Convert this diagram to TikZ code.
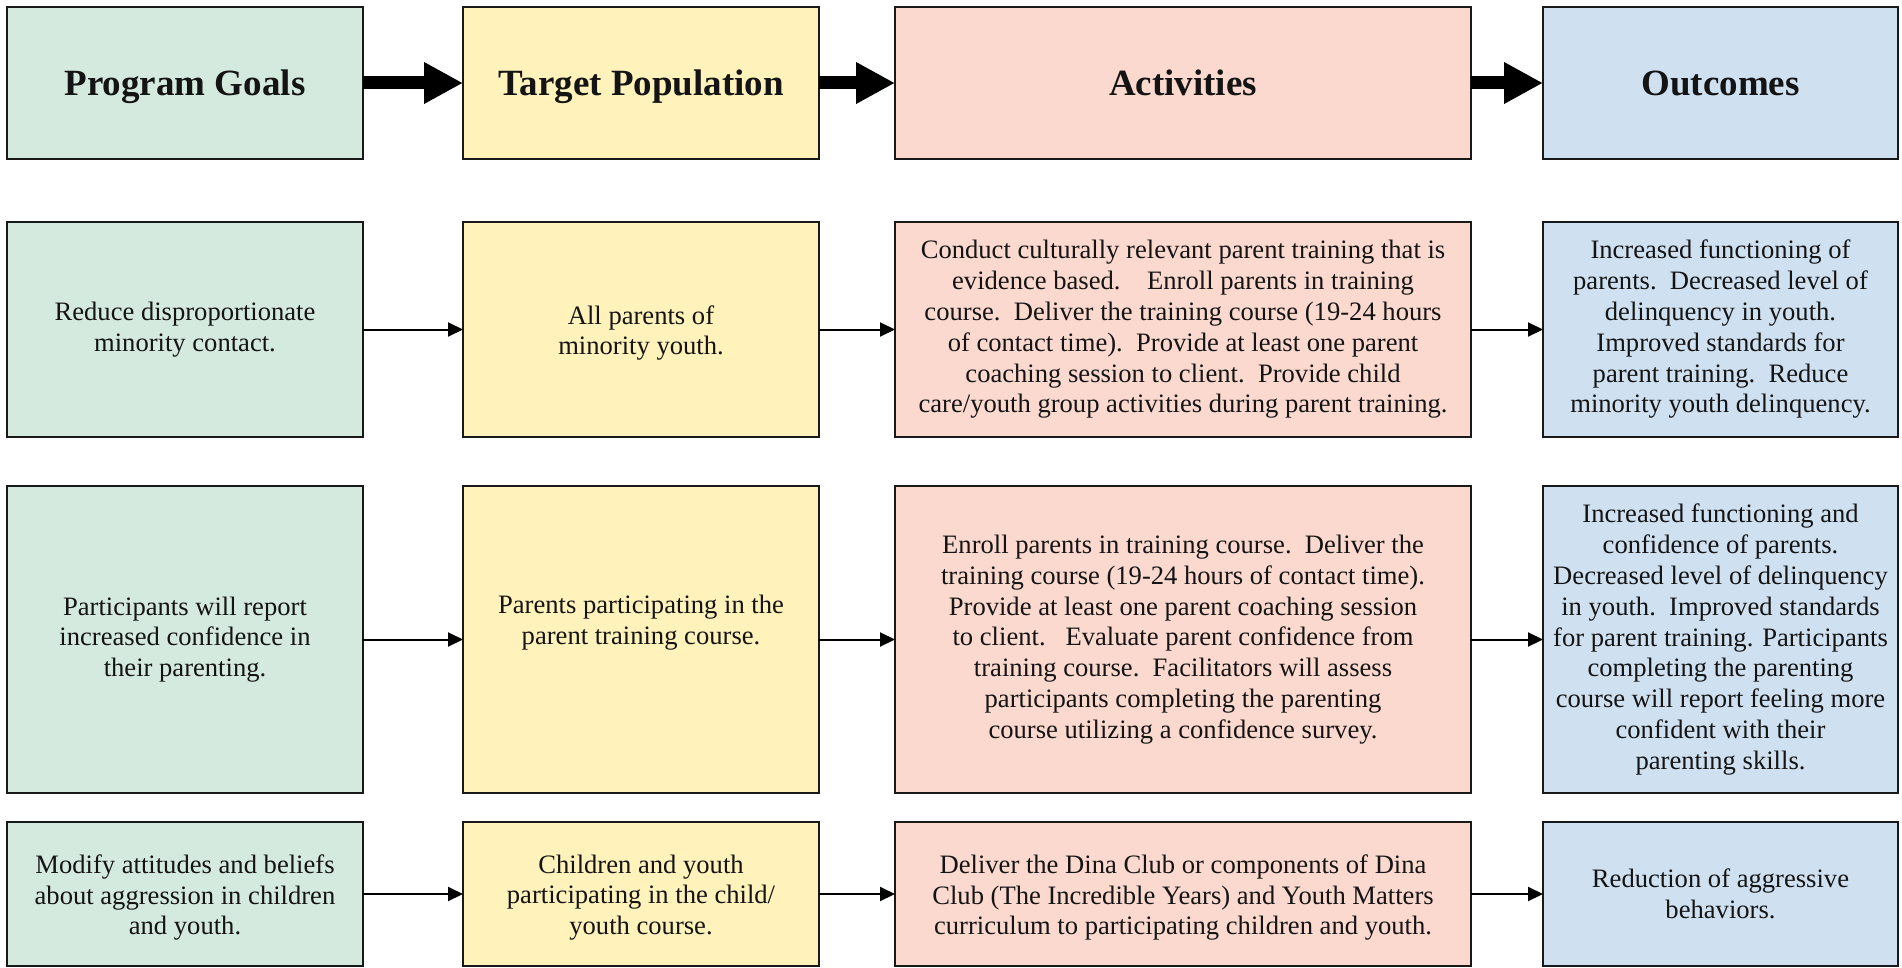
\documentclass[tikz,border=0pt]{standalone}
\usepackage{fontspec}
\setmainfont{Liberation Serif}
\usetikzlibrary{arrows.meta}
\definecolor{cgreen}{HTML}{D5EADF}
\definecolor{cyellow}{HTML}{FFF2BB}
\definecolor{cpink}{HTML}{FBD9CF}
\definecolor{cblue}{HTML}{CFE1F1}
\newcommand{\bodyfont}{\fontsize{26.6}{30.8}\selectfont}
\newcommand{\headfont}{\fontsize{37}{44}\selectfont\bfseries}
\tikzset{
  box/.style={draw=black!90, line width=2.3pt, inner sep=0pt, outer sep=0pt},
  txt/.style={align=center, font=\bodyfont, text=black!92, inner sep=0pt},
  headbox/.style={box, font=\headfont, text=black!92, text height=30pt, text depth=4.8pt},
  c1/.style={minimum width=356pt, fill=cgreen},
  c2/.style={minimum width=356pt, fill=cyellow},
  c3/.style={minimum width=576pt, fill=cpink},
  c4/.style={minimum width=355pt, fill=cblue},
  r1/.style={minimum height=215pt},
  r2/.style={minimum height=307pt},
  r3/.style={minimum height=144pt},
  bigarrow/.style={line width=13pt, -{Triangle[length=39pt 0 0, width=39pt 0 0]}},
  thinarrow/.style={line width=2pt, -{Triangle[length=15pt 0 0, width=14pt 0 0]}}
}
\begin{document}
\begin{tikzpicture}[x=1pt,y=-1pt]
\useasboundingbox (0,0) rectangle (1902,968);
% header
\node[headbox,c1,minimum height=152pt] (h1) at (185,83) {Program Goals};
\node[headbox,c2,minimum height=152pt] (h2) at (641,83) {Target Population};
\node[headbox,c3,minimum height=152pt] (h3) at (1183,83) {Activities};
\node[headbox,c4,minimum height=152pt] (h4) at (1720.5,83) {Outcomes};
% row 1
\node[box,c1,r1] (a1) at (185,329.5) {};
\node[box,c2,r1] (a2) at (641,329.5) {};
\node[box,c3,r1] (a3) at (1183,329.5) {};
\node[box,c4,r1] (a4) at (1720.5,329.5) {};
\node[txt] (a1t) at (a1.center) {Reduce disproportionate\\minority contact.};
\node[txt] (a2t) at ([yshift=-3.5pt]a2.center) {All parents of\\minority youth.};
\node[txt] (a3t) at (a3.center) {Conduct culturally relevant parent training that is\\evidence based.\quad Enroll parents in training\\course.\ \ Deliver the training course (19-24 hours\\of contact time).\ \ Provide at least one parent\\coaching session to client.\ \ Provide child\\care/youth group activities during parent training.};
\node[txt] (a4t) at (a4.center) {Increased functioning of\\parents.\ \ Decreased level of\\delinquency in youth.\\Improved standards for\\parent training.\ \ Reduce\\minority youth delinquency.};
% row 2
\node[box,c1,r2] (b1) at (185,639.5) {};
\node[box,c2,r2] (b2) at (641,639.5) {};
\node[box,c3,r2] (b3) at (1183,639.5) {};
\node[box,c4,r2] (b4) at (1720.5,639.5) {};
\node[txt] (b1t) at (b1.center) {Participants will report\\increased confidence in\\their parenting.};
\node[txt] (b2t) at ([yshift=17pt]b2.center) {Parents participating in the\\parent training course.};
\node[txt] (b3t) at (b3.center) {Enroll parents in training course.\ \ Deliver the\\training course (19-24 hours of contact time).\\Provide at least one parent coaching session\\to client.\ \ \ Evaluate parent confidence from\\training course.\ \ Facilitators will assess\\participants completing the parenting\\course utilizing a confidence survey.};
\node[txt] (b4t) at (b4.center) {Increased functioning and\\confidence of parents.\\Decreased level of delinquency\\in youth.\ \ Improved standards\\for parent training. Participants\\completing the parenting\\course will report feeling more\\confident with their\\parenting skills.};
% row 3
\node[box,c1,r3] (d1) at (185,894) {};
\node[box,c2,r3] (d2) at (641,894) {};
\node[box,c3,r3] (d3) at (1183,894) {};
\node[box,c4,r3] (d4) at (1720.5,894) {};
\node[txt] (d1t) at ([yshift=-3.5pt]d1.center) {Modify attitudes and beliefs\\about aggression in children\\and youth.};
\node[txt] (d2t) at ([yshift=-3.5pt]d2.center) {Children and youth\\participating in the child/\\youth course.};
\node[txt] (d3t) at ([yshift=-3.5pt]d3.center) {Deliver the Dina Club or components of Dina\\Club (The Incredible Years) and Youth Matters\\curriculum to participating children and youth.};
\node[txt] (d4t) at (d4.center) {Reduction of aggressive\\behaviors.};
% arrows
\draw[bigarrow] (h1.east) -- (h2.west);
\draw[bigarrow] (h2.east) -- (h3.west);
\draw[bigarrow] (h3.east) -- (h4.west);
\foreach \r in {a,b,d}{
  \draw[thinarrow] (\r1.east) -- (\r2.west);
  \draw[thinarrow] (\r2.east) -- (\r3.west);
  \draw[thinarrow] (\r3.east) -- (\r4.west);
}
\end{tikzpicture}
\end{document}
